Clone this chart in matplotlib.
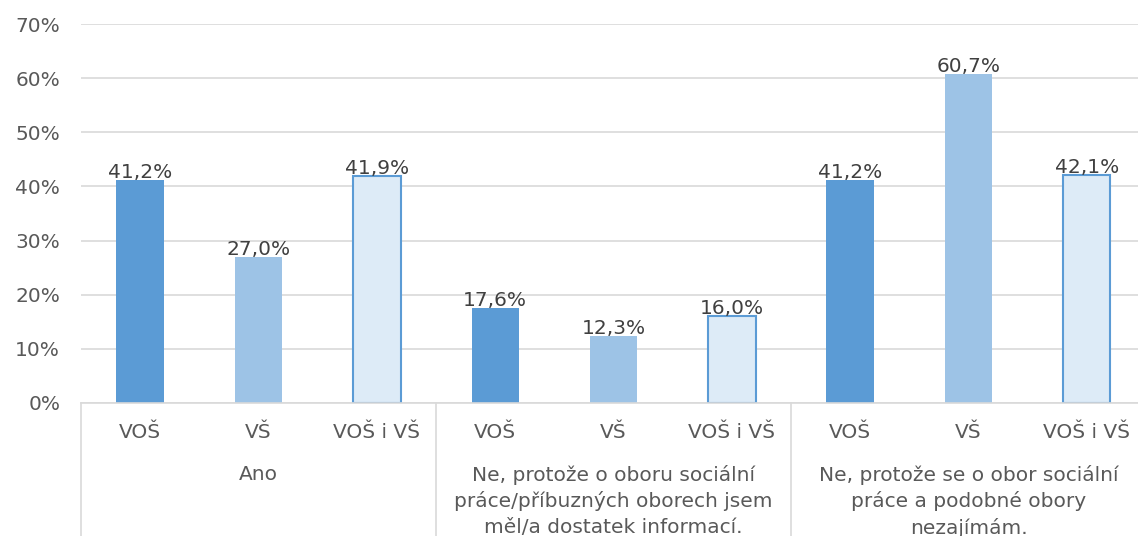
import matplotlib.pyplot as plt
from matplotlib.transforms import blended_transform_factory

groups = ["Ano",
          "Ne, protože o oboru sociální\npráce/příbuzných oborech jsem\nměl/a dostatek informací.",
          "Ne, protože se o obor sociální\npráce a podobné obory\nnezajímám."]
schools = ["VOŠ", "VŠ", "VOŠ i VŠ"]
values = [41.2, 27.0, 41.9, 17.6, 12.3, 16.0, 41.2, 60.7, 42.1]
yticks = [0, 10, 20, 30, 40, 50, 60, 70]

face = ["#5B9BD5", "#9DC3E6", "#DDEBF7"]
edge = ["#5B9BD5", "#9DC3E6", "#5B9BD5"]
fs = 14.5

plt.rcParams['font.family'] = ['DejaVu Sans']
fig = plt.figure(figsize=(11.38, 5.36), dpi=100)
ax = fig.add_axes([81 / 1138, 133 / 536, 1065 / 1138, 379 / 536])

x = list(range(len(values)))
for i, v in enumerate(values):
    k = i % 3
    ax.bar(i, v, width=0.40, color=face[k], edgecolor=edge[k],
           linewidth=1.5 if k == 2 else 0, zorder=2)
    ax.annotate(f"{v:.1f}%".replace(".", ","), (i, v), xytext=(0, -1.5),
                textcoords="offset points", ha="center", va="bottom",
                fontsize=fs, color="#404040", zorder=3)

ax.set_xlim(-0.5, 8.5)
ax.set_ylim(0, 70)
ax.set_yticks(yticks)
ax.set_yticklabels([f"{t}%" for t in yticks], fontsize=fs, color="#595959")
ax.tick_params(axis="y", length=0, pad=15)
ax.set_xticks([])
ax.grid(axis="y", color="#D9D9D9", linewidth=1.2, zorder=0)
for s in ["top", "right", "left"]:
    ax.spines[s].set_visible(False)
ax.spines["bottom"].set_color("#D9D9D9")
ax.spines["bottom"].set_linewidth(1.2)

trans = blended_transform_factory(ax.transData, ax.transAxes)
for i in x:
    ax.text(i, -0.077, schools[i % 3], transform=trans, ha="center", va="center",
            fontsize=fs, color="#595959")
for g, label in enumerate(groups):
    ax.text(3 * g + 1, -0.163, label, transform=trans, ha="center", va="top",
            fontsize=fs, color="#595959", linespacing=1.42)
for b in [-0.5, 2.5, 5.5]:
    ax.plot([b, b], [0, -0.36], transform=trans, color="#D9D9D9",
            linewidth=1.2, clip_on=False)

fig.savefig("out.png", dpi=100)
